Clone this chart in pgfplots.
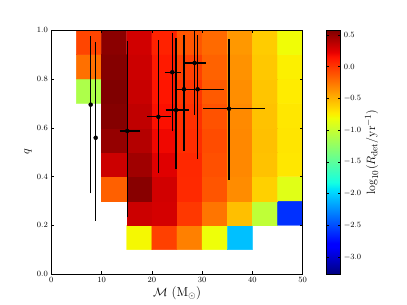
\documentclass[border=0pt]{standalone}
\usepackage{pgfplots}
\pgfplotsset{compat=1.18}
\usepackage{pgfplotstable}

\pgfplotstableread{
x y c
7.5 0.15 nan
12.5 0.15 nan
17.5 0.15 -0.78
22.5 0.15 -0.032
27.5 0.15 -0.294
32.5 0.15 -0.813
37.5 0.15 -2.066
42.5 0.15 nan
47.5 0.15 nan
7.5 0.25 nan
12.5 0.25 nan
17.5 0.25 0.321
22.5 0.25 0.294
27.5 0.25 0.002
32.5 0.25 -0.248
37.5 0.25 -0.548
42.5 0.25 -1.03
47.5 0.25 -2.608
7.5 0.35 nan
12.5 0.35 -0.163
17.5 0.35 0.548
22.5 0.35 0.306
27.5 0.35 0.060
32.5 0.35 -0.117
37.5 0.35 -0.340
42.5 0.35 -0.617
47.5 0.35 -0.878
7.5 0.45 nan
12.5 0.45 0.321
17.5 0.45 0.467
22.5 0.45 0.256
27.5 0.45 0.067
32.5 0.45 -0.098
37.5 0.45 -0.325
42.5 0.45 -0.559
47.5 0.45 -0.713
7.5 0.55 nan
12.5 0.55 0.502
17.5 0.55 0.402
22.5 0.55 0.202
27.5 0.55 0.044
32.5 0.55 -0.079
37.5 0.55 -0.325
42.5 0.55 -0.552
47.5 0.55 -0.705
7.5 0.65 nan
12.5 0.65 0.556
17.5 0.65 0.360
22.5 0.65 0.163
27.5 0.65 0.033
32.5 0.65 -0.105
37.5 0.65 -0.332
42.5 0.65 -0.559
47.5 0.65 -0.713
7.5 0.75 -1.117
12.5 0.75 0.573
17.5 0.75 0.335
22.5 0.75 0.144
27.5 0.75 0.014
32.5 0.75 -0.137
37.5 0.75 -0.348
42.5 0.75 -0.575
47.5 0.75 -0.732
7.5 0.85 -0.229
12.5 0.85 0.556
17.5 0.85 0.321
22.5 0.85 0.121
27.5 0.85 -0.032
32.5 0.85 -0.171
37.5 0.85 -0.367
42.5 0.85 -0.586
47.5 0.85 -0.748
7.5 0.95 -0.052
12.5 0.95 0.537
17.5 0.95 0.306
22.5 0.95 0.090
27.5 0.95 -0.117
32.5 0.95 -0.202
37.5 0.95 -0.390
42.5 0.95 -0.602
47.5 0.95 -0.800
}\ratetable

\pgfplotstableread{
x y xp xm yp ym
7.83 0.695 0 0 0.272 0.356
8.83 0.559 0 0 0.384 0.333
15.1 0.587 2.2 1.1 0.360 0.345
21.3 0.645 2.1 1.8 0.306 0.221
24.06 0.828 1.33 1.1 0.154 0.234
24.8 0.673 2.12 1.66 0.286 0.235
26.38 0.758 2.72 1.45 0.213 0.245
29.1 0.758 4.78 2.72 0.215 0.279
28.5 0.866 1.86 1.46 0.122 0.205
35.35 0.678 6.68 4.73 0.279 0.284
}\pointtable

\begin{document}
\begin{tikzpicture}
\path[use as bounding box] (0pt,0pt) rectangle (407pt,305pt);
\begin{axis}[
  at={(51.3pt,31pt)}, anchor=south west,
  scale only axis, width=251.4pt, height=243.7pt,
  xmin=0, xmax=50, ymin=0, ymax=1,
  xtick={0,10,20,30,40,50},
  ytick={0,0.2,0.4,0.6,0.8,1},
  yticklabel style={/pgf/number format/.cd, fixed, fixed zerofill, precision=1},
  tick label style={font=\fontsize{7.8}{9}\selectfont},
  major tick length=2.5pt,
  tick style={black, line width=0.5pt},
  axis line style={black, line width=0.8pt},
  axis on top,
  xlabel={$\mathcal{M}$ (M$_\odot$)},
  ylabel={$q$},
  label style={font=\fontsize{13}{15}\selectfont},
  xlabel style={at={(axis description cs:0.5,0)}, anchor=base, yshift=-22.7pt},
  ylabel style={at={(axis description cs:-0.0927,0.5)}, anchor=center},
  colormap={mpljet}{rgb(0pt)=(0,0,0.5) rgb(110pt)=(0,0,1) rgb(125pt)=(0,0,1) rgb(340pt)=(0,0.86,1) rgb(350pt)=(0,0.9,0.968) rgb(375pt)=(0.081,1,0.887) rgb(640pt)=(0.935,1,0.032) rgb(650pt)=(0.968,0.963,0) rgb(660pt)=(1,0.926,0) rgb(890pt)=(1,0.074,0) rgb(910pt)=(0.909,0,0) rgb(1000pt)=(0.5,0,0)},
  point meta min=-3.27, point meta max=0.575,
  colorbar,
  colorbar style={
    at={(parent axis.north east)}, anchor=north west, xshift=15.6pt,
    scale only axis, width=13.4pt, height=243.7pt,
    ytick={-3,-2.5,-2,-1.5,-1,-0.5,0,0.5},
    yticklabel style={/pgf/number format/.cd, fixed, fixed zerofill, precision=1},
    tick label style={font=\fontsize{7.8}{9}\selectfont},
    major tick length=2.5pt,
    axis line style={black, line width=0.8pt},
    ylabel={$\log_{10}(R_{\rm det}/{\rm yr}^{-1})$},
    ylabel style={font=\fontsize{13}{15}\selectfont, at={(axis description cs:3.34,0.5)}, anchor=center},
  },
]
\addplot[matrix plot*, mesh/cols=9, point meta=explicit, unbounded coords=jump] table[x=x, y=y, meta=c] {\ratetable};
\addplot[only marks, mark=*, mark size=2pt, black,
  error bars/.cd, x dir=both, x explicit, y dir=both, y explicit,
  error bar style={line width=1.2pt, black},
  error mark options={line width=1.2pt, black, mark size=2pt}]
  table[x=x, y=y, x error plus=xp, x error minus=xm, y error plus=yp, y error minus=ym] {\pointtable};
\end{axis}
\end{tikzpicture}
\end{document}
